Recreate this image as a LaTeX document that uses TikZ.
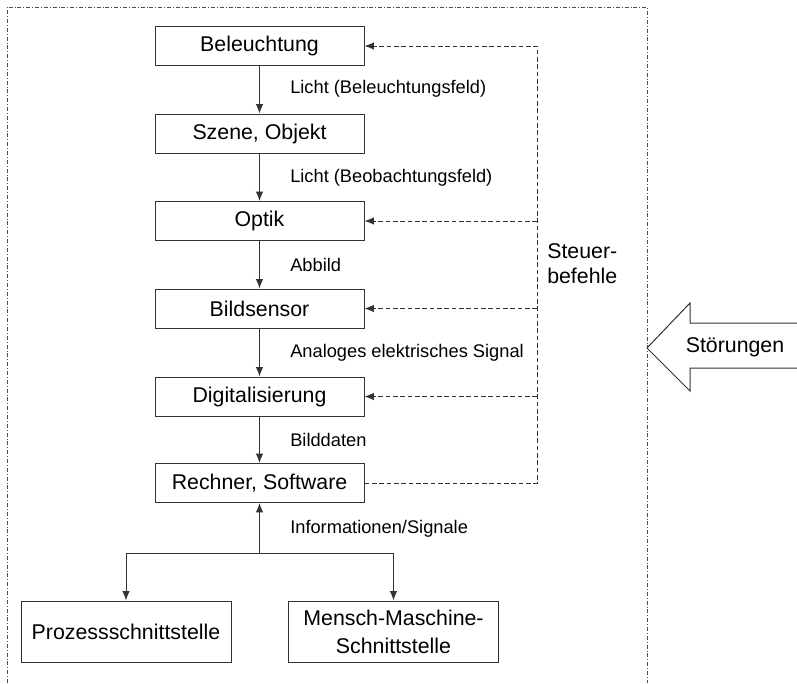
\documentclass[tikz,border=0pt]{standalone}
\usepackage{fontspec}
\setmainfont{Liberation Sans}
\usepackage{tikz}
\usetikzlibrary{arrows.meta,positioning}

\begin{document}
\begin{tikzpicture}[x=0.75pt,y=-0.75pt,
		block/.style={draw=black!80,line width=0.75pt,fill=white,minimum width=156.75pt,minimum height=29.25pt,inner sep=0pt,font=\fontsize{16}{19}\selectfont},
		iface/.style={block,minimum width=157.5pt,minimum height=45.75pt,align=center,font=\fontsize{16}{21}\selectfont},
		lbl/.style={anchor=west,inner sep=0pt,font=\fontsize{13.7}{16}\selectfont},
		tip/.style={-{Latex[length=7pt,width=5.5pt]}},
		flow/.style={draw=black!80,line width=0.75pt,tip},
		ctrl/.style={draw=black!80,line width=0.75pt,dash pattern=on 3.5pt off 2pt},
		frame/.style={draw=black!70,line width=0.75pt,dash pattern=on 3pt off 1.5pt on 0.6pt off 1.5pt}]
	\useasboundingbox (0,0) rectangle (797,683);
	% Rahmen
	\draw[frame] (7,683) -- (7,7) -- (647,7) -- (647,683);
	% Kette
	\node[block] (bel) at (259.5,46) {Beleuchtung};
	\node[block] (sze) at (259.5,133.5) {Szene, Objekt};
	\node[block] (opt) at (259.5,221) {Optik};
	\node[block] (sen) at (259.5,308.5) {Bildsensor};
	\node[block] (dig) at (259.5,396.5) {Digitalisierung};
	\node[block] (rech) at (259.5,483) {Rechner, Software};
	\node[iface] (proz) at (126,631.5) {Prozessschnittstelle};
	\node[iface] (mmi) at (393.5,631.5) {Mensch-Maschine-\\Schnittstelle};
	\draw[flow] (bel) -- (sze);
	\draw[flow] (sze) -- (opt);
	\draw[flow] (opt) -- (sen);
	\draw[flow] (sen) -- (dig);
	\draw[flow] (dig) -- (rech);
	\node[lbl] (l1) at (290,89) {Licht (Beleuchtungsfeld)};
	\node[lbl] (l2) at (290,178) {Licht (Beobachtungsfeld)};
	\node[lbl] (l3) at (290,265) {Abbild};
	\node[lbl] (l4) at (290,353) {Analoges elektrisches Signal};
	\node[lbl] (l5) at (290,440) {Bilddaten};
	\node[lbl] (l6) at (290,529) {Informationen/Signale};
	% Ausgaenge
	\coordinate (junc) at (259.5,553);
	\draw[flow] (junc) -- (rech);
	\draw[flow] (junc) -| (proz.north);
	\draw[flow] (junc) -| (mmi.north);
	% Steuerbefehle
	\coordinate (bus) at (537,46);
	\draw[ctrl,tip] (rech.east) -| (bus) -- (bel.east);
	\draw[ctrl,tip] (bus |- opt.east) -- (opt.east);
	\draw[ctrl,tip] (bus |- sen.east) -- (sen.east);
	\draw[ctrl,tip] (bus |- dig.east) -- (dig.east);
	\node[anchor=west,align=left,inner sep=0pt,font=\fontsize{16}{18.75}\selectfont] (steuer) at (547,264) {Steuer-\\befehle};
	% Stoerungen
	\draw[draw=black!80,line width=0.75pt] (797.5,323) -- (690,323) -- (690,303) -- (647,348) -- (690,391) -- (690,368) -- (797.5,368);
	\node[font=\fontsize{16}{19}\selectfont] (stoer) at (735,347) {Störungen};
\end{tikzpicture}
\end{document}
